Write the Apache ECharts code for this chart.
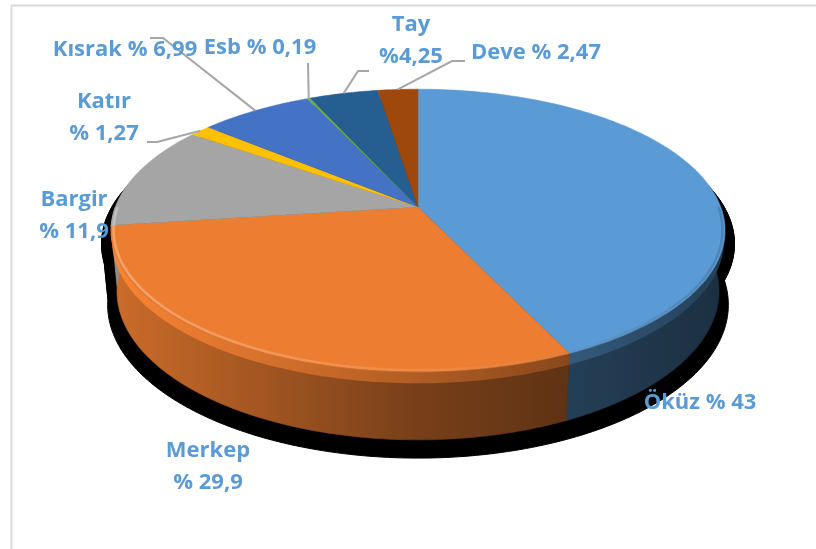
<!DOCTYPE html>
<html>
<head>
<meta charset="utf-8">
<script src="https://cdn.jsdelivr.net/npm/echarts@6/dist/echarts.min.js"></script>
<style>
html, body { margin: 0; padding: 0; background: #fff; }
#pie { width: 816px; height: 549px; }
</style>
</head>
<body>
<div id="pie"></div>
<script>
// data
var categories = ['Öküz', 'Merkep', 'Bargir', 'Katır', 'Kısrak', 'Esb', 'Tay', 'Deve'];
var values = [43, 29.9, 11.9, 1.27, 6.99, 0.19, 4.25, 2.47];
var labelTexts = ['Öküz % 43', 'Merkep\n% 29,9', 'Bargir\n% 11,9', 'Katır\n% 1,27',
    'Kısrak % 6,99', 'Esb % 0,19', 'Tay\n%4,25', 'Deve % 2,47'];
var colors = ['#5B9BD5', '#ED7D31', '#A5A5A5', '#FFC000', '#4472C4', '#70AD47', '#255E91', '#9E480E'];

// label layout (pixels) and leader elbows
var labelPos = [[700, 403], [208, 467], [74, 216], [104, 118], [125, 50], [260, 48], [411, 41], [536, 53]];
var leaders = [null, null, null, [[157, 142], [147, 142]], [[163, 38], [150, 38]],
    [[308, 63]], [[358, 71], [369, 71]], [[452, 61], [465, 61]]];

// slice angles, clockwise from 12 o'clock
var total = values.reduce(function (s, v) { return s + v; }, 0);
var starts = [], ends = [];
var acc = 0;
values.forEach(function (v) {
    starts.push(acc / total * Math.PI * 2);
    acc += v;
    ends.push(acc / total * Math.PI * 2);
});

// 3d view of the disc
var TILT = 27 * Math.PI / 180, RAD = 0.1863, FOCAL = 1625, DEPTH = 0.0423;
var CX = 418, CY = 207;

function project(theta, depth, scale, dy) {
    var x = RAD * scale * Math.sin(theta);
    var z = RAD * scale * Math.cos(theta);
    var yy = depth * Math.cos(TILT) - z * Math.sin(TILT);
    var zz = depth * Math.sin(TILT) + z * Math.cos(TILT);
    return [CX + FOCAL * x / (1 + zz), CY + (dy || 0) + FOCAL * yy / (1 + zz)];
}

function arc(a0, a1, depth, scale, dy) {
    var n = Math.max(2, Math.ceil((a1 - a0) / (Math.PI / 180)));
    var pts = [];
    for (var k = 0; k <= n; k++) {
        pts.push(project(a0 + (a1 - a0) * k / n, depth, scale, dy));
    }
    return pts;
}

function shade(hex, f) {
    var r = parseInt(hex.slice(1, 3), 16), g = parseInt(hex.slice(3, 5), 16), b = parseInt(hex.slice(5, 7), 16);
    return 'rgb(' + Math.min(255, Math.round(r * f)) + ',' + Math.min(255, Math.round(g * f)) + ',' + Math.min(255, Math.round(b * f)) + ')';
}

function renderItem(params, api) {
    var i = params.dataIndex;
    var a0 = starts[i], a1 = ends[i];
    var color = colors[i];
    var children = [];

    // black drop shadow under the disc
    var sTop = [project(0, 0, 0, 12)].concat(arc(a0, a1, 0, 1.03, 12));
    var sBand = arc(a0, a1, 0, 1.03, 12).concat(arc(a0, a1, DEPTH, 1.03, 12).reverse());
    children.push({ type: 'polygon', z2: 0, shape: { points: sTop }, style: { fill: '#000', stroke: '#000', lineWidth: 1 } });
    children.push({ type: 'polygon', z2: 0, shape: { points: sBand }, style: { fill: '#000', stroke: '#000', lineWidth: 1 } });

    // front side wall
    var f0 = Math.max(a0, Math.PI / 2), f1 = Math.min(a1, Math.PI * 1.5);
    if (f1 > f0) {
        var side = arc(f0, f1, 0, 1).concat(arc(f0, f1, DEPTH, 1).reverse());
        var grad = new echarts.graphic.LinearGradient(CX - 307, 0, CX + 307, 0, [
            { offset: 0, color: shade(color, 0.86) },
            { offset: 0.5, color: shade(color, 0.5) },
            { offset: 1, color: shade(color, 0.3) }
        ], true);
        children.push({ type: 'polygon', z2: 2, shape: { points: side }, style: { fill: grad, stroke: grad, lineWidth: 0.5 } });
        // soft bevel along the top edge
        var band = arc(f0, f1, 0, 1).concat(arc(f0, f1, 0.007, 1).reverse());
        var bevel = new echarts.graphic.LinearGradient(CX - 307, 0, CX + 307, 0, [
            { offset: 0, color: shade(color, 1.08) },
            { offset: 0.45, color: shade(color, 0.8) },
            { offset: 1, color: shade(color, 0.42) }
        ], true);
        children.push({ type: 'polygon', z2: 3, shape: { points: band }, style: { fill: bevel, opacity: 0.9 } });
        var rim = new echarts.graphic.LinearGradient(CX - 307, 0, CX + 307, 0, [
            { offset: 0, color: 'rgba(255,255,255,0.3)' },
            { offset: 0.5, color: 'rgba(255,255,255,0.1)' },
            { offset: 1, color: 'rgba(0,0,0,0.15)' }
        ], true);
        children.push({ type: 'polyline', z2: 12, shape: { points: arc(f0, f1, 0, 0.992) }, style: { fill: null, stroke: rim, lineWidth: 2.5 } });
    }

    // top face
    var top = [project(0, 0, 0)].concat(arc(a0, a1, 0, 1));
    children.push({ type: 'polygon', z2: 10, shape: { points: top }, style: { fill: color, stroke: color, lineWidth: 0.5 } });

    // leader line
    if (leaders[i]) {
        var anchor = project((a0 + a1) / 2, 0, 1);
        children.push({ type: 'polyline', z2: 20, shape: { points: [anchor].concat(leaders[i]) },
            style: { fill: null, stroke: '#A6A6A6', lineWidth: 2 } });
    }

    // label
    children.push({ type: 'text', z2: 30, style: {
        text: labelTexts[i], x: labelPos[i][0], y: labelPos[i][1],
        align: 'center', verticalAlign: 'middle',
        fill: '#5B9BD5', font: 'bold 22px "Open Sans"', lineHeight: 32
    } });

    return { type: 'group', children: children };
}

var myChart = echarts.init(document.getElementById('pie'));
myChart.setOption({
    animation: false,
    backgroundColor: '#fff',
    graphic: [{
        type: 'rect', z: -1,
        shape: { x: 11.5, y: 5.5, width: 900, height: 700 },
        style: { fill: null, stroke: '#D9D9D9', lineWidth: 2 }
    }],
    series: [{
        type: 'custom',
        coordinateSystem: 'none',
        renderItem: renderItem,
        data: values.map(function (v, i) { return { name: categories[i], value: v }; })
    }]
});
</script>
</body>
</html>
